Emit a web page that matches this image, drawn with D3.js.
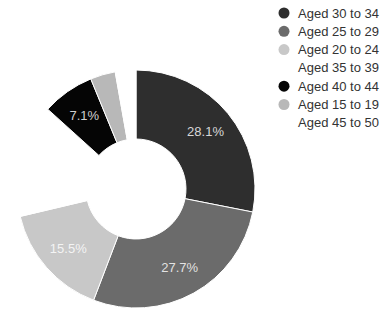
<!DOCTYPE html>
<html>
<head>
<meta charset="utf-8">
<script src="https://cdn.jsdelivr.net/npm/d3@7"></script>
<style>
  body { margin: 0; background: #fff; }
  svg { display: block; font-family: "Liberation Sans", Arial, sans-serif; }
</style>
</head>
<body>
<svg id="chart" width="383" height="312"></svg>
<script>
// age groups, in the order they are drawn (clockwise from 12 o'clock)
const groups = ["Aged 30 to 34", "Aged 25 to 29", "Aged 20 to 24", "Aged 35 to 39",
                "Aged 40 to 44", "Aged 15 to 19", "Aged 45 to 50"];
const shares = [28.1, 27.7, 15.5, 15.4, 7.1, 3.4, 2.8];
const palette = ["#2e2e2e", "#6b6b6b", "#c8c8c8", "#ffffff", "#050505", "#b8b8b8", "#ffffff"];

const width = 383, height = 312;
const cx = 136, cy = 189;
const outer = 119, inner = 50;

const svg = d3.select("#chart");

const data = groups.map((g, i) => ({ group: g, value: shares[i] }));

const color = d3.scaleOrdinal().domain(groups).range(palette);

const pie = d3.pie().value(d => d.value).sort(null);
const arc = d3.arc().innerRadius(inner).outerRadius(outer);
const labelArc = d3.arc().innerRadius(90).outerRadius(90);

const g = svg.append("g").attr("transform", `translate(${cx},${cy})`);

const slices = pie(data);

g.selectAll("path")
  .data(slices)
  .enter()
  .append("path")
  .attr("d", arc)
  .attr("fill", d => color(d.data.group))
  .attr("stroke", "#fff")
  .attr("stroke-width", 1);

// labels are white, so the one on the white slice disappears like in the original
g.selectAll("text")
  .data(slices.filter(d => d.data.value > 5))
  .enter()
  .append("text")
  .attr("transform", d => `translate(${labelArc.centroid(d)})`)
  .attr("text-anchor", "middle")
  .attr("dy", "0.35em")
  .attr("fill", "#fff")
  .attr("fill-opacity", 0.82)
  .style("font-size", "13px")
  .text(d => d.data.value.toFixed(1) + "%");

// legend
const legend = svg.append("g").attr("transform", "translate(284,13)");
const rows = legend.selectAll("g")
  .data(groups)
  .enter()
  .append("g")
  .attr("transform", (d, i) => `translate(0,${i * 18.3})`);

rows.append("circle")
  .attr("r", 5.5)
  .attr("fill", d => color(d));

rows.append("text")
  .attr("x", 14)
  .attr("dy", "0.35em")
  .attr("fill", "#333")
  .style("font-size", "13px")
  .text(d => d);
</script>
</body>
</html>
